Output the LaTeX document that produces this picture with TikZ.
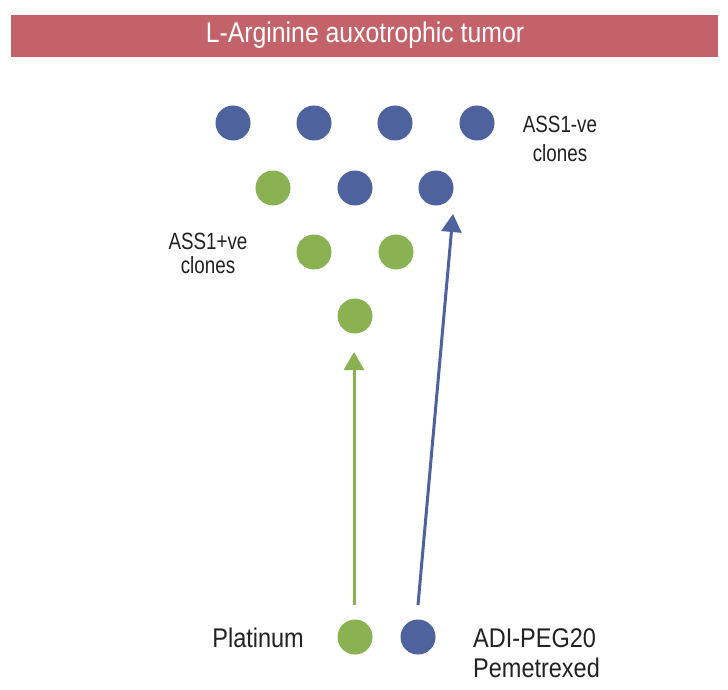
\documentclass[tikz,border=0pt]{standalone}
\usepackage{fontspec}
\setmainfont[FakeStretch=0.87]{Liberation Sans}
\newfontfamily\narrowfont[FakeStretch=0.8]{Liberation Sans}
\usetikzlibrary{arrows.meta}
\definecolor{barred}{HTML}{C4626A}
\definecolor{cblue}{HTML}{4E639E}
\definecolor{cgreen}{HTML}{8AB152}
\definecolor{txt}{HTML}{222222}
\begin{document}
\begin{tikzpicture}[x=1pt,y=-1pt,
  cellbase/.style={circle,minimum size=35pt,inner sep=0pt},
  negcell/.style={cellbase,fill=cblue},
  poscell/.style={cellbase,fill=cgreen},
  biglab/.style={anchor=base,text=txt,inner sep=0pt,font=\fontsize{27}{30}\selectfont},
  smalllab/.style={anchor=base,text=txt,inner sep=0pt,font=\narrowfont\fontsize{23.5}{26}\selectfont},
  arr/.style={line width=3pt,-{Triangle[width=20pt,length=18pt]}}
]
\path[use as bounding box,fill=white] (0,0) rectangle (728,690);
% header
\node[fill=barred,minimum width=707pt,minimum height=42pt,inner sep=0pt,anchor=north west] (bar) at (11,15) {};
\node[anchor=base,text=white,inner sep=0pt,font=\fontsize{28.5}{30}\selectfont] (title) at (365,43) {L-Arginine auxotrophic tumor};
% row 1
\node[negcell] (a1) at (233,123) {};
\node[negcell] (a2) at (314,123) {};
\node[negcell] (a3) at (395,123) {};
\node[negcell] (a4) at (477,123) {};
% row 2
\node[poscell] (b1) at (273,188) {};
\node[negcell] (b2) at (355,188) {};
\node[negcell] (b3) at (436,188) {};
% row 3
\node[poscell] (c1) at (314,252) {};
\node[poscell] (c2) at (396,252) {};
% row 4
\node[poscell] (d1) at (355,316) {};
% bottom
\node[poscell] (pt) at (355,637) {};
\node[negcell] (ap) at (418,637) {};
% labels
\node[smalllab] (negl1) at (560,133) {ASS1-ve};
\node[smalllab] (negl2) at (560,161) {clones};
\node[smalllab] (posl1) at (208,249) {ASS1+ve};
\node[smalllab] (posl2) at (208,273) {clones};
\node[biglab,anchor=base east] (platl) at (304,647) {Platinum};
\node[biglab,anchor=base west] (adil) at (473,647) {ADI-PEG20};
\node[biglab,anchor=base west] (peml) at (473,677) {Pemetrexed};
% arrows
\coordinate (gs) at (354,605);
\coordinate (gt) at (354,352);
\coordinate (bs) at (418,605);
\coordinate (bt) at (453,214);
\draw[arr,cgreen] (gs) -- (gt);
\draw[arr,cblue] (bs) -- (bt);
\end{tikzpicture}
\end{document}
